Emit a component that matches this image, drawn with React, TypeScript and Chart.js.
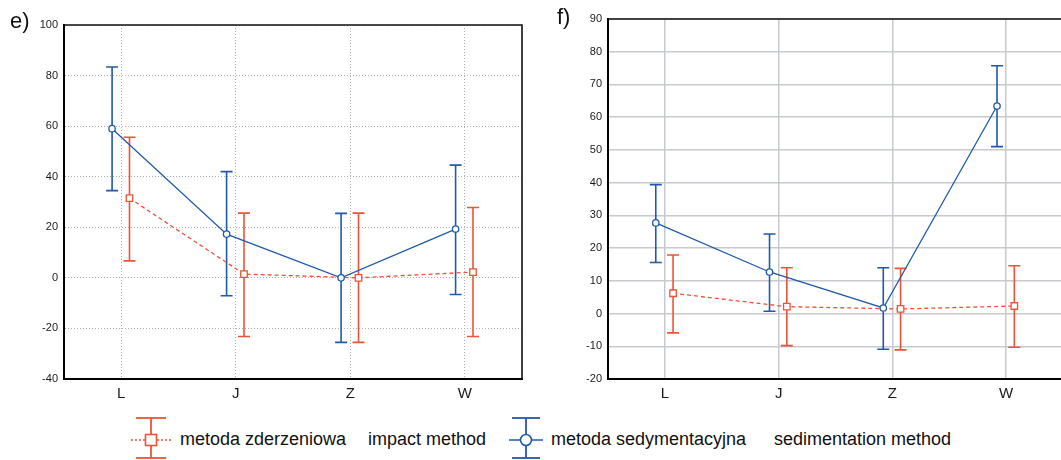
import React, { useEffect, useRef } from "react";
import { Chart, registerables } from "chart.js";

Chart.register(...registerables);

// ---------- data ----------
const CATEGORIES = ["L", "J", "Z", "W"];

// panel e) — sedimentation method (blue)
const E_SED_MEAN = [59, 17.3, 0, 19.3];
const E_SED_HIGH = [83.4, 42, 25.5, 44.6];
const E_SED_LOW = [34.5, -7.1, -25.5, -6.6];
// panel e) — impact method (red)
const E_IMP_MEAN = [31.5, 1.5, 0, 2.3];
const E_IMP_HIGH = [55.6, 25.6, 25.6, 27.8];
const E_IMP_LOW = [6.7, -23.2, -25.5, -23.2];

// panel f) — sedimentation method (blue)
const F_SED_MEAN = [27.7, 12.7, 1.7, 63.4];
const F_SED_HIGH = [39.4, 24.3, 14, 75.7];
const F_SED_LOW = [15.6, 0.7, -10.9, 51];
// panel f) — impact method (red)
const F_IMP_MEAN = [6.2, 2.1, 1.4, 2.3];
const F_IMP_HIGH = [17.9, 14, 13.8, 14.6];
const F_IMP_LOW = [-5.9, -9.8, -11.1, -10.3];

const E_Y_RANGE = [-40, 100, 20];
const F_Y_RANGE = [-20, 90, 10];

const LEGEND_IMPACT = ["metoda zderzeniowa", "impact method"];
const LEGEND_SED = ["metoda sedymentacyjna", "sedimentation method"];

// ---------- style ----------
const BLUE = "#1f5aa8";
const RED = "#ef5237";
const FONT = 'Arial, "Liberation Sans", sans-serif';
const SED_SHIFT = -0.08;
const IMP_SHIFT = 0.072;

const errorBarPlugin = {
  id: "errorBars",
  beforeDatasetsDraw(chart: any) {
    const ctx = chart.ctx;
    const xs = chart.scales.x;
    const ys = chart.scales.y;
    chart.data.datasets.forEach((ds: any, i: number) => {
      const meta = chart.getDatasetMeta(i);
      if (meta.hidden) return;
      ctx.save();
      ctx.strokeStyle = ds.borderColor;
      ctx.lineWidth = 1.6;
      ctx.setLineDash([]);
      ds.data.forEach((pt: any, j: number) => {
        const x = xs.getPixelForValue(pt.x);
        const yh = ys.getPixelForValue(ds.errHigh[j]);
        const yl = ys.getPixelForValue(ds.errLow[j]);
        ctx.beginPath();
        ctx.moveTo(x, yh);
        ctx.lineTo(x, yl);
        ctx.moveTo(x - 6, yh);
        ctx.lineTo(x + 6, yh);
        ctx.moveTo(x - 6, yl);
        ctx.lineTo(x + 6, yl);
        ctx.stroke();
      });
      ctx.restore();
    });
  },
};

const framePlugin = {
  id: "frame",
  afterDraw(chart: any) {
    const { ctx, chartArea: a } = chart;
    ctx.save();
    ctx.strokeStyle = "#111";
    ctx.lineWidth = 1.6;
    ctx.beginPath();
    ctx.moveTo(a.left, a.top);
    ctx.lineTo(a.right, a.top);
    ctx.lineTo(a.right, a.bottom);
    ctx.stroke();
    ctx.restore();
  },
};

function makeConfig(opts: {
  sedMean: number[];
  sedHigh: number[];
  sedLow: number[];
  impMean: number[];
  impHigh: number[];
  impLow: number[];
  yRange: number[];
  yWidth: number;
  padTop: number;
  padRight: number;
  xHeight: number;
  dotted: boolean;
}) {
  const gridColor = opts.dotted ? "#b0b0b0" : "#c6c9ce";
  const gridWidth = opts.dotted ? 1 : 1.5;
  const dash = opts.dotted ? [1, 2] : [];
  return {
    type: "line",
    data: {
      datasets: [
        {
          label: LEGEND_SED.join(" "),
          data: opts.sedMean.map((v, i) => ({ x: i + SED_SHIFT, y: v })),
          errHigh: opts.sedHigh,
          errLow: opts.sedLow,
          borderColor: BLUE,
          borderWidth: 1.3,
          pointStyle: "circle",
          pointRadius: 3.2,
          pointBorderWidth: 1.3,
          pointBackgroundColor: "#ffffff",
          pointBorderColor: BLUE,
          tension: 0,
          fill: false,
        },
        {
          label: LEGEND_IMPACT.join(" "),
          data: opts.impMean.map((v, i) => ({ x: i + IMP_SHIFT, y: v })),
          errHigh: opts.impHigh,
          errLow: opts.impLow,
          borderColor: RED,
          borderWidth: 1.3,
          borderDash: [4, 3],
          pointStyle: "rect",
          pointRadius: 4.6,
          pointBorderWidth: 1.3,
          pointBackgroundColor: "#ffffff",
          pointBorderColor: RED,
          tension: 0,
          fill: false,
        },
      ],
    },
    options: {
      animation: false,
      responsive: false,
      events: [],
      layout: { padding: { top: opts.padTop, right: opts.padRight, left: 0, bottom: 0 } },
      plugins: { legend: { display: false }, tooltip: { enabled: false }, title: { display: false } },
      scales: {
        x: {
          type: "linear",
          min: -0.5,
          max: 3.5,
          afterBuildTicks: (s: any) => {
            s.ticks = CATEGORIES.map((_, i) => ({ value: i }));
          },
          afterFit: (s: any) => {
            s.height = opts.xHeight;
          },
          ticks: {
            callback: (v: any) => CATEGORIES[Math.round(v)] ?? "",
            font: { size: 15, family: FONT },
            color: "#1a1a1a",
            padding: 6,
            autoSkip: false,
            maxRotation: 0,
          },
          grid: { color: gridColor, lineWidth: gridWidth, drawTicks: false },
          border: { color: "#000", width: 2, dash },
        },
        y: {
          type: "linear",
          min: opts.yRange[0],
          max: opts.yRange[1],
          afterFit: (s: any) => {
            s.width = opts.yWidth;
          },
          ticks: {
            stepSize: opts.yRange[2],
            font: { size: 11, family: FONT },
            color: "#1a1a1a",
            padding: 6,
          },
          grid: { color: gridColor, lineWidth: gridWidth, drawTicks: false },
          border: { color: "#000", width: 2, dash },
        },
      },
    },
    plugins: [errorBarPlugin, framePlugin],
  };
}

function Panel({ left, width, height, config }: { left: number; width: number; height: number; config: any }) {
  const ref = useRef<HTMLCanvasElement>(null);
  useEffect(() => {
    const chart = new Chart(ref.current as HTMLCanvasElement, config);
    return () => chart.destroy();
  }, []);
  return (
    <div style={{ position: "absolute", left, top: 0, width, height }}>
      <canvas ref={ref} width={width} height={height} style={{ width, height, display: "block" }} />
    </div>
  );
}

const textStyle = (left: number, top: number, size: number): React.CSSProperties => ({
  position: "absolute",
  left,
  top,
  fontFamily: FONT,
  fontSize: size,
  color: "#111",
  whiteSpace: "nowrap",
  lineHeight: "normal",
});

export default function App() {
  const cfgE = makeConfig({
    sedMean: E_SED_MEAN,
    sedHigh: E_SED_HIGH,
    sedLow: E_SED_LOW,
    impMean: E_IMP_MEAN,
    impHigh: E_IMP_HIGH,
    impLow: E_IMP_LOW,
    yRange: E_Y_RANGE,
    yWidth: 64,
    padTop: 25,
    padRight: 8,
    xHeight: 31,
    dotted: true,
  });
  const cfgF = makeConfig({
    sedMean: F_SED_MEAN,
    sedHigh: F_SED_HIGH,
    sedLow: F_SED_LOW,
    impMean: F_IMP_MEAN,
    impHigh: F_IMP_HIGH,
    impLow: F_IMP_LOW,
    yRange: F_Y_RANGE,
    yWidth: 78,
    padTop: 19,
    padRight: 7,
    xHeight: 31,
    dotted: false,
  });
  return (
    <div
      style={{
        position: "absolute",
        left: 0,
        top: 0,
        width: 1061,
        height: 460,
        overflow: "hidden",
        background: "#fff",
      }}
    >
      <Panel left={0} width={530} height={410} config={cfgE} />
      <Panel left={530} width={540} height={410} config={cfgF} />
      <span style={textStyle(10, 8, 22)}>e)</span>
      <span style={textStyle(557, 4, 22)}>f)</span>

      <svg style={{ position: "absolute", left: 0, top: 410 }} width={1061} height={50}>
        {/* impact method icon */}
        <g stroke={RED} strokeWidth={1.8} fill="none">
          <line x1={151} y1={8} x2={151} y2={24.5} />
          <line x1={151} y1={35.5} x2={151} y2={48} />
          <line x1={136} y1={8} x2={166} y2={8} />
          <line x1={136} y1={48} x2={166} y2={48} />
          <line x1={131} y1={30} x2={145} y2={30} strokeDasharray="2 2" strokeWidth={1.3} />
          <line x1={157} y1={30} x2={171} y2={30} strokeDasharray="2 2" strokeWidth={1.3} />
          <rect x={145.5} y={24.5} width={11} height={11} fill="#fff" strokeWidth={1.6} />
        </g>
        {/* sedimentation method icon */}
        <g stroke={BLUE} strokeWidth={1.8} fill="none">
          <line x1={526} y1={8} x2={526} y2={24.5} />
          <line x1={526} y1={35.5} x2={526} y2={48} />
          <line x1={512} y1={8} x2={540} y2={8} />
          <line x1={512} y1={48} x2={540} y2={48} />
          <line x1={509} y1={30} x2={520.5} y2={30} strokeWidth={1.5} />
          <line x1={531.5} y1={30} x2={543} y2={30} strokeWidth={1.5} />
          <circle cx={526} cy={30} r={5.5} fill="#fff" strokeWidth={1.6} />
        </g>
      </svg>
      <span style={textStyle(180, 429, 18)}>{LEGEND_IMPACT[0]}</span>
      <span style={textStyle(368, 429, 18)}>{LEGEND_IMPACT[1]}</span>
      <span style={textStyle(551, 429, 18)}>{LEGEND_SED[0]}</span>
      <span style={textStyle(774, 429, 18)}>{LEGEND_SED[1]}</span>
    </div>
  );
}
